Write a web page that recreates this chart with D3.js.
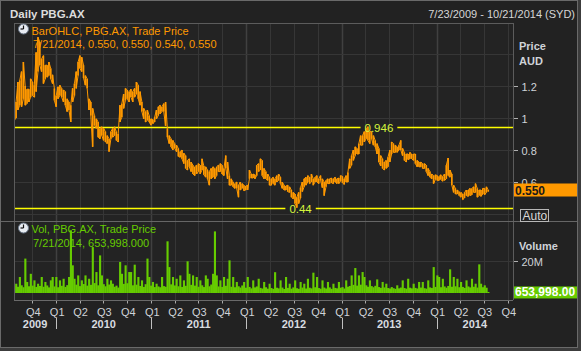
<!DOCTYPE html>
<html><head><meta charset="utf-8">
<script src="https://cdn.jsdelivr.net/npm/d3@7"></script>
<style>html,body{margin:0;padding:0;background:#3c3c3c;} svg{display:block;font-family:"Liberation Sans",Arial,sans-serif;}</style>
</head><body><svg id="c" width="581" height="351"></svg>
<script>
// ---------------- data ----------------
const titleText = "Daily PBG.AX";
const rangeText = "7/23/2009 - 10/21/2014 (SYD)";
const priceLegend = ["BarOHLC, PBG.AX, Trade Price", "7/21/2014, 0.550, 0.550, 0.540, 0.550"];
const volLegend = ["Vol, PBG.AX, Trade Price", "7/21/2014, 653,998.000"];
const domainStart = "2009-07-23", domainEnd = "2014-10-21";
const firstWeek = "2009-07-24"; // weekly samples (Fridays)
const priceHigh = [
1.04,1.10,1.225,1.235,1.29,1.35,1.20,1.18,1.18,1.245,
1.225,1.205,1.41,1.505,1.475,1.37,1.39,1.33,1.33,1.35,
1.31,1.27,1.185,1.14,1.195,1.205,1.185,1.175,1.165,1.12,
1.10,1.08,1.185,1.215,1.29,1.35,1.39,1.38,1.33,1.265,
1.245,1.12,1.10,1.06,1.015,0.995,0.975,0.935,0.945,0.935,
0.915,0.89,0.87,0.915,0.935,0.945,0.915,0.90,1.08,1.09,
1.15,1.185,1.175,1.165,1.18,1.165,1.185,1.225,1.205,1.165,
1.10,1.06,1.04,1.05,1.015,0.995,0.99,1.005,1.05,1.07,
1.08,1.07,1.09,1.10,0.935,0.89,0.87,0.86,0.84,0.83,
0.81,0.79,0.80,0.78,0.765,0.735,0.745,0.725,0.705,0.695,
0.705,0.715,0.705,0.745,0.70,0.695,0.675,0.665,0.685,0.695,
0.685,0.695,0.705,0.715,0.705,0.685,0.765,0.725,0.64,0.62,
0.60,0.59,0.60,0.58,0.60,0.59,0.58,0.575,0.58,0.675,
0.65,0.65,0.645,0.705,0.715,0.745,0.735,0.685,0.665,0.65,
0.63,0.62,0.63,0.62,0.64,0.65,0.63,0.60,0.58,0.575,
0.58,0.57,0.55,0.535,0.525,0.505,0.535,0.565,0.60,0.62,
0.63,0.64,0.63,0.65,0.62,0.63,0.64,0.62,0.64,0.62,
0.60,0.61,0.62,0.62,0.625,0.62,0.63,0.62,0.625,0.64,
0.635,0.62,0.64,0.66,0.745,0.765,0.80,0.82,0.81,0.84,
0.89,0.89,0.915,0.93,0.946,0.915,0.915,0.89,0.86,0.84,
0.81,0.765,0.745,0.725,0.735,0.755,0.80,0.85,0.84,0.83,
0.82,0.83,0.86,0.81,0.785,0.775,0.775,0.785,0.775,0.775,
0.775,0.735,0.725,0.725,0.715,0.715,0.705,0.685,0.665,0.65,
0.64,0.645,0.64,0.635,0.645,0.635,0.65,0.705,0.75,0.675,
0.65,0.58,0.56,0.55,0.54,0.535,0.525,0.535,0.55,0.55,
0.56,0.56,0.57,0.59,0.56,0.55,0.55,0.56,0.56,0.57,
0.55];
const priceLow = [
0.985,1.0,1.05,1.08,1.07,1.12,1.08,1.09,1.10,1.13,
1.14,1.13,1.165,1.29,1.33,1.29,1.215,1.245,1.255,1.265,
1.245,1.215,1.11,1.07,1.12,1.14,1.13,1.10,1.08,1.04,
1.05,0.975,1.10,1.14,1.185,1.265,1.31,1.29,1.25,1.205,
1.185,1.05,1.015,0.82,0.955,0.935,0.88,0.87,0.89,0.86,
0.85,0.84,0.79,0.87,0.88,0.89,0.86,0.85,0.975,1.005,
1.06,1.11,1.12,1.10,1.13,1.10,1.13,1.15,1.12,1.08,
1.04,0.995,0.975,0.985,0.975,0.955,0.965,0.975,0.995,1.015,
1.025,1.04,1.04,0.95,0.88,0.84,0.82,0.80,0.81,0.79,
0.76,0.755,0.745,0.715,0.685,0.675,0.695,0.665,0.65,0.64,
0.65,0.665,0.65,0.675,0.645,0.63,0.62,0.58,0.62,0.63,
0.62,0.64,0.665,0.665,0.65,0.64,0.685,0.62,0.58,0.58,
0.57,0.56,0.56,0.505,0.55,0.56,0.545,0.55,0.55,0.62,
0.625,0.625,0.62,0.64,0.665,0.675,0.64,0.62,0.62,0.61,
0.58,0.58,0.59,0.58,0.60,0.61,0.59,0.56,0.55,0.55,
0.54,0.535,0.505,0.495,0.465,0.44,0.465,0.50,0.54,0.57,
0.58,0.60,0.59,0.60,0.58,0.60,0.60,0.59,0.61,0.565,
0.515,0.57,0.59,0.59,0.595,0.59,0.60,0.59,0.59,0.605,
0.595,0.585,0.60,0.60,0.685,0.705,0.735,0.765,0.775,0.775,
0.83,0.83,0.85,0.87,0.86,0.84,0.87,0.83,0.82,0.775,
0.725,0.70,0.685,0.675,0.685,0.695,0.725,0.775,0.785,0.785,
0.785,0.80,0.80,0.765,0.735,0.725,0.74,0.745,0.745,0.735,
0.715,0.695,0.695,0.695,0.685,0.685,0.665,0.64,0.63,0.62,
0.59,0.615,0.61,0.61,0.615,0.605,0.61,0.62,0.64,0.63,
0.58,0.535,0.525,0.525,0.515,0.505,0.49,0.50,0.515,0.51,
0.515,0.52,0.535,0.535,0.505,0.515,0.51,0.525,0.52,0.535,
0.54];
const volumeM = [
4.5,5.8,3.9,10,4.8,3.6,21.5,6.9,4.2,12,
4.6,7.9,3.8,5.8,4.4,10,3.9,6.9,4.7,3.5,
7.9,10,4.1,10,3.6,7.9,4.5,8.9,3.8,4.9,
10,39.2,17.3,8.9,5.2,11,4.3,7.9,5.6,11,
4.6,8.9,5.1,28.7,6.2,13.1,4.8,23.5,11,5.5,
4.2,8.9,5.3,7.9,5.8,3.9,4.6,3.4,19.4,12,
5.7,17.3,6.1,13.1,13.1,4.8,17.7,5.2,10,4.4,
7.9,3.8,5.5,21.5,10,4.6,6.9,3.7,5.8,4.1,
3.6,10,4.3,3.9,32.3,16.2,5.4,10,4.7,8.9,
4.2,11,3.8,7.9,4.5,19.8,12,5.1,11,4.6,
10,3.9,7.9,4.8,3.7,11,8.9,4.2,5.3,12,
38.5,11,4.1,7.9,3.8,10,4.5,8.9,20.4,3.9,
10,3.6,6.9,4.2,3.4,4.7,6.9,3.3,10,3.8,
2.9,7.9,3.5,4.1,8.9,3.2,2.8,6.9,3.6,2.7,
5.8,3.1,2.6,13,3.3,2.9,7.9,3.4,2.5,10,
3.2,5.8,2.7,3.5,7.9,3.0,2.6,6.9,3.4,5.8,
2.8,8.9,3.3,2.9,12.7,3.6,10,3.1,2.7,7.9,
3.4,2.8,6.9,3.5,2.6,5.8,3.2,2.9,6.9,3.3,
3.7,2.8,7.9,3.9,4.4,11,5.1,15.6,4.6,11,
5.2,13.1,10,4.8,3.9,7.9,4.3,3.6,4.5,8.5,
3.7,3.2,6.9,3.5,5.8,3.1,2.8,3.7,3.0,2.6,
4.8,2.9,3.4,7.9,3.1,2.7,8.9,3.3,2.9,5.8,
3.2,2.8,6.9,3.4,6.9,3.0,2.7,7.9,3.5,3.1,
16.2,3.8,11,10,3.6,8.9,4.1,3.3,4.4,14.8,
3.9,10,4.2,8.9,3.6,6.9,3.8,3.2,7.9,4.1,
3.5,8.9,3.9,5.8,3.4,17.9,5.8,3.6,4.8,3.3,
0.65];
const priceTicks = [1.2, 1, 0.8, 0.6];
const priceGridValues = [1.4, 1.2, 1, 0.8, 0.6, 0.4];
const volumeTicks = [20];
const lastPrice = 0.55, lastVolume = 653998;
const highMark = {date: "2013-04-12", value: 0.946, label: "0.946"};
const lowMark = {date: "2012-07-12", value: 0.44, label: "0.44"};

// ---------------- layout ----------------
const W = 581, H = 351;
const L = 14, R = 513, PT = 23, PB = 221, VT = 221, VB = 300, VBase = 293;
const parse = d3.timeParse("%Y-%m-%d");
const dates = priceHigh.map((_, i) => d3.timeDay.offset(parse(firstWeek), 7 * i));

const x = d3.scaleTime().domain([parse(domainStart), parse(domainEnd)]).range([L, R]);
const yP = d3.scaleLinear().domain([1 - (PB - 118) / 160, 1 + (118 - PT) / 160]).range([PB, PT]);
const yV = d3.scaleLinear().domain([0, 45]).range([VBase, VT]);

const svg = d3.select("#c");
const fontC = "#cfd3d8";

svg.append("rect").attr("x", 0).attr("y", 0).attr("width", W).attr("height", H).attr("fill", "#3c3c3c");
svg.append("rect").attr("x", 0.5).attr("y", 0.5).attr("width", 577).attr("height", 347)
  .attr("fill", "#222222").attr("stroke", "#6a6a6a");

// title
svg.append("text").attr("x", 10).attr("y", 18).attr("font-size", 11.5).attr("font-weight", "bold")
  .attr("fill", "#dcdcdc").text(titleText);
svg.append("text").attr("x", 575).attr("y", 18).attr("font-size", 11).attr("text-anchor", "end")
  .attr("fill", "#d6d6d6").text(rangeText);

// plot backgrounds
svg.append("rect").attr("x", L).attr("y", PT).attr("width", R - L).attr("height", VB - PT).attr("fill", "#232323");

// quarter grid
const quarters = d3.timeMonth.every(3).range(new Date(2009, 9, 1), new Date(2014, 9, 2));
const grid = svg.append("g");
quarters.forEach(q => {
  const xx = Math.round(x(q)) + 0.5;
  const isYear = q.getMonth() === 0;
  grid.append("line").attr("x1", xx).attr("x2", xx).attr("y1", PT).attr("y2", VB)
    .attr("stroke", isYear ? "#404040" : "#363636").attr("stroke-width", isYear ? 1.5 : 1);
});
priceGridValues.forEach(v => {
  const yy = Math.round(yP(v)) + 0.5;
  grid.append("line").attr("x1", L).attr("x2", R).attr("y1", yy).attr("y2", yy).attr("stroke", "#363636");
});
volumeTicks.forEach(v => {
  const yy = Math.round(yV(v)) + 0.5;
  grid.append("line").attr("x1", L).attr("x2", R).attr("y1", yy).attr("y2", yy).attr("stroke", "#363636");
});

// clip paths
const defs = svg.append("defs");
defs.append("clipPath").attr("id", "cp").append("rect").attr("x", L).attr("y", PT).attr("width", R - L).attr("height", PB - PT);
defs.append("clipPath").attr("id", "cv").append("rect").attr("x", L).attr("y", VT).attr("width", R - L).attr("height", VB - VT);

// marker lines (high / low)
function markLine(m) {
  const yy = Math.round(yP(m.value)) + 0.5;
  const cx = x(parse(m.date)) + (m === highMark ? 11 : 4);
  const t = svg.append("text").attr("x", cx).attr("y", yy + 4).attr("text-anchor", "middle")
    .attr("font-size", 11.5).attr("fill", "#d6f53c").text(m.label);
  const w = t.node().getComputedTextLength();
  svg.append("line").attr("x1", L).attr("x2", cx - w / 2 - 4).attr("y1", yy).attr("y2", yy)
    .attr("stroke", "#ffff00").attr("stroke-width", 1.3);
  svg.append("line").attr("x1", cx + w / 2 + 4).attr("x2", R).attr("y1", yy).attr("y2", yy)
    .attr("stroke", "#ffff00").attr("stroke-width", 1.3);
  return t;
}
const markTexts = [markLine(highMark), markLine(lowMark)];

// price OHLC: high-low bars plus a thin connecting line
const bw = x(dates[1]) - x(dates[0]);
const pg = svg.append("g").attr("clip-path", "url(#cp)");
pg.selectAll("rect").data(dates).join("rect")
  .attr("x", d => x(d) - 0.8).attr("width", 1.6)
  .attr("y", (d, i) => yP(priceHigh[i])).attr("height", (d, i) => Math.max(1, yP(priceLow[i]) - yP(priceHigh[i])))
  .attr("fill", "#ff9900");
const pts = [];
dates.forEach((d, i) => {
  const a = {d, v: priceHigh[i]}, b = {d, v: priceLow[i]};
  if (i % 2 === 0) pts.push(a, b); else pts.push(b, a);
});
pg.append("path")
  .attr("d", d3.line().x(p => x(p.d)).y(p => yP(p.v))(pts))
  .attr("fill", "none").attr("stroke", "#ff9900").attr("stroke-width", 1);

markTexts.forEach(t => t.raise());

// volume bars
svg.append("g").attr("clip-path", "url(#cv)").selectAll("rect").data(volumeM).join("rect")
  .attr("x", (v, i) => x(dates[i]) - bw / 2).attr("width", bw + 0.3)
  .attr("y", v => yV(v)).attr("height", v => VBase - yV(v)).attr("fill", "#66cc00");

// borders
const bc = "#5c5c5c";
svg.append("line").attr("x1", L + 0.5).attr("x2", L + 0.5).attr("y1", PT).attr("y2", VB).attr("stroke", bc);
svg.append("line").attr("x1", R + 0.5).attr("x2", R + 0.5).attr("y1", PT).attr("y2", VB).attr("stroke", bc);
svg.append("line").attr("x1", L).attr("x2", R).attr("y1", PT + 0.5).attr("y2", PT + 0.5).attr("stroke", bc);
svg.append("line").attr("x1", L).attr("x2", R).attr("y1", VB + 0.5).attr("y2", VB + 0.5).attr("stroke", "#6a6a6a");
svg.append("line").attr("x1", 1).attr("x2", 577).attr("y1", PB + 0.5).attr("y2", PB + 0.5).attr("stroke", "#666");

// legends with clock icons
function clock(cx, cy) {
  const g = svg.append("g");
  g.append("circle").attr("cx", cx).attr("cy", cy).attr("r", 5).attr("fill", "#e8ecf2").attr("stroke", "#6d7a8c");
  g.append("line").attr("x1", cx).attr("x2", cx).attr("y1", cy).attr("y2", cy - 3.5).attr("stroke", "#111").attr("stroke-width", 1.2);
  g.append("line").attr("x1", cx).attr("x2", cx - 3).attr("y1", cy).attr("y2", cy).attr("stroke", "#111").attr("stroke-width", 1.2);
}
clock(23.5, 29);
svg.append("text").attr("x", 31.5).attr("y", 34.5).attr("font-size", 11).attr("fill", "#ff9900").text(priceLegend[0]);
svg.append("text").attr("x", 33).attr("y", 48).attr("font-size", 11).attr("fill", "#ff9900").text(priceLegend[1]);
clock(23.5, 228);
svg.append("text").attr("x", 31.5).attr("y", 233).attr("font-size", 11).attr("fill", "#66cc00").text(volLegend[0]);
svg.append("text").attr("x", 33).attr("y", 246.5).attr("font-size", 11).attr("fill", "#66cc00").text(volLegend[1]);

// right price axis
svg.append("text").attr("x", 519).attr("y", 50).attr("font-size", 11).attr("font-weight", "bold").attr("fill", fontC).text("Price");
svg.append("text").attr("x", 519).attr("y", 65).attr("font-size", 11).attr("font-weight", "bold").attr("fill", fontC).text("AUD");
const fmtP = d3.format("");
priceTicks.forEach(v => {
  const yy = Math.round(yP(v)) + 0.5;
  svg.append("line").attr("x1", 514).attr("x2", 518).attr("y1", yy).attr("y2", yy).attr("stroke", "#b0b0b0");
  svg.append("text").attr("x", 521.5).attr("y", yy + 4).attr("font-size", 11).attr("fill", fontC).text(fmtP(v));
});
const py = yP(lastPrice);
svg.append("rect").attr("x", 514).attr("y", py - 6.5).attr("width", 63).attr("height", 13).attr("fill", "#ff9900");
svg.append("text").attr("x", 515).attr("y", py + 4.5).attr("font-size", 12).attr("font-weight", "bold").attr("fill", "#1a1a1a").text(d3.format(".3f")(lastPrice));
svg.append("rect").attr("x", 520.5).attr("y", 209.5).attr("width", 28).attr("height", 12).attr("fill", "#222").attr("stroke", "#b8b8b8");
svg.append("text").attr("x", 522.5).attr("y", 220).attr("font-size", 12).attr("fill", "#d8d8d8").text("Auto");

// right volume axis
svg.append("text").attr("x", 519).attr("y", 250).attr("font-size", 11).attr("font-weight", "bold").attr("fill", fontC).text("Volume");
volumeTicks.forEach(v => {
  const yy = Math.round(yV(v)) + 0.5;
  svg.append("line").attr("x1", 514).attr("x2", 518).attr("y1", yy).attr("y2", yy).attr("stroke", "#b0b0b0");
  svg.append("text").attr("x", 521.5).attr("y", yy + 4).attr("font-size", 11).attr("fill", fontC).text(v + "M");
});
const vy = yV(lastVolume / 1e6);
svg.append("rect").attr("x", 514).attr("y", vy - 5.5).attr("width", 63).attr("height", 12).attr("fill", "#66cc00");
svg.append("text").attr("x", 515).attr("y", vy + 4.5).attr("font-size", 12).attr("font-weight", "bold").attr("fill", "#ffffff").text(d3.format(",.2f")(lastVolume));

// bottom axis
quarters.forEach(q => {
  const xx = Math.round(x(q)) + 0.5;
  svg.append("line").attr("x1", xx).attr("x2", xx).attr("y1", VB + 1).attr("y2", VB + 3.5).attr("stroke", "#aaa");
  svg.append("text").attr("x", x(q) + 1).attr("y", 315.5).attr("text-anchor", "middle").attr("font-size", 11)
    .attr("fill", fontC).text("Q" + (Math.floor(q.getMonth() / 3) + 1));
});
const [d0, d1] = x.domain();
for (let yr = 2009; yr <= 2014; yr++) {
  const a = new Date(Math.max(d0, new Date(yr, 0, 1))), b = new Date(Math.min(d1, new Date(yr + 1, 0, 1)));
  svg.append("text").attr("x", (x(a) + x(b)) / 2).attr("y", 328).attr("text-anchor", "middle")
    .attr("font-size", 11).attr("font-weight", "bold").attr("fill", "#d8dce0").text(yr);
  if (yr > 2009) {
    const xx = Math.round(x(new Date(yr, 0, 1))) + 0.5;
    svg.append("line").attr("x1", xx).attr("x2", xx).attr("y1", 318).attr("y2", 329).attr("stroke", "#c0c0c0");
  }
}
</script></body></html>
